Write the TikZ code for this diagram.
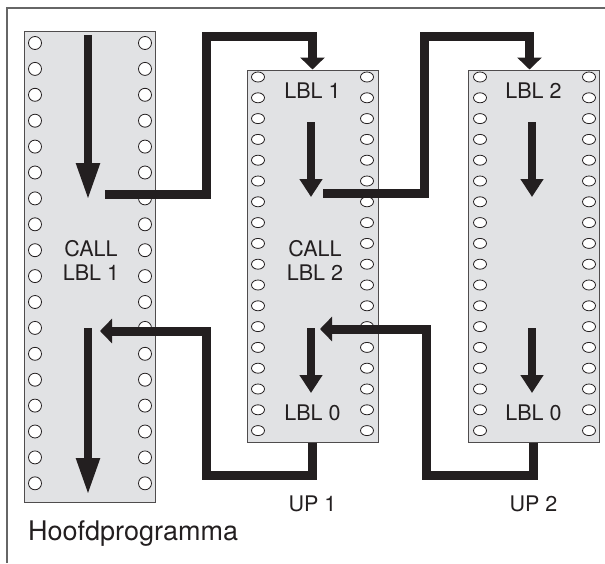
\documentclass[tikz,border=0pt]{standalone}
\usepackage{fontspec}
\setmainfont{TeX Gyre Heros}
\usepackage{xcolor}
\definecolor{stripgray}{RGB}{225,226,228}
\definecolor{inkblack}{RGB}{35,31,32}
\usepackage{tikz}
\usetikzlibrary{shapes.geometric, arrows.meta, positioning, calc}
\tikzset{
  strip/.style={
    rectangle, draw=inkblack!80, fill=stripgray, line width=1pt,
    minimum width=131pt, inner sep=0pt
  },
  hole/.style={
    circle, draw=inkblack, fill=white, line width=0.8pt,
    minimum size=13pt, inner sep=0pt
  },
  flathole/.style={
    ellipse, draw=inkblack, fill=white, line width=0.8pt,
    minimum width=13pt, minimum height=10pt, inner sep=0pt
  },
  tag/.style={
    font=\fontsize{21.5}{24}\selectfont, text=inkblack,
    inner sep=0pt, align=center
  },
  flow/.style={line width=8pt, color=inkblack, -{Triangle[width=22pt, length=#1]}},
  flow/.default=18pt,
  link/.style={line width=9pt, color=inkblack, line join=miter, -{Triangle[width=24pt, length=12pt]}},
  frame/.style={line width=1.6pt, color=black!60},
}

\begin{document}
\begin{tikzpicture}[x=1pt, y=-1pt]
  \useasboundingbox (0,0) rectangle (605,563);
  \draw [frame] (7,563) |- (605,8);

  % strips
  \node (main) [strip, minimum height=471pt] at (89.5,266.5) {};
  \node (up1)  [strip, minimum height=372pt] at (312.5,256) {};
  \node (up2)  [strip, minimum height=372pt] at (533.5,256) {};

  % holes
  \foreach \i in {0,...,17} {
    \node (ml\i) [hole] at (35,43+25.9*\i) {};
    \node (mr\i) [hole] at (145,43+25.9*\i) {};
    \node (al\i) [flathole] at (258,77+20.8*\i) {};
    \node (ar\i) [flathole] at (367,77+20.8*\i) {};
    \node (bl\i) [flathole] at (480,77+20.8*\i) {};
    \node (br\i) [flathole] at (589,77+20.8*\i) {};
  }

  % texts
  \node (call1) [tag] at (91,260) {CALL\\LBL 1};
  \node (lbl1)  [tag, below=13pt of up1.north] {LBL 1};
  \node (call2) [tag] at (315,260) {CALL\\LBL 2};
  \node (end1)  [tag, above=21pt of up1.south] {LBL 0};
  \node (lbl2)  [tag, below=13pt of up2.north] {LBL 2};
  \node (end2)  [tag, above=21pt of up2.south] {LBL 0};
  \node (nup1)  [tag, below=53pt of up1.south] {UP 1};
  \node (nup2)  [tag, below=53pt of up2.south] {UP 2};
  \node (head)  [tag, font=\fontsize{27}{30}\selectfont, anchor=base west] at (28,540) {Hoofdprogramma};

  % program flow
  \coordinate (m1a) at (88,35);   \coordinate (m1b) at (88,200);
  \coordinate (m2a) at (88,328);  \coordinate (m2b) at (88,495);
  \coordinate (a1a) at (311,122); \coordinate (a1b) at (311,197);
  \coordinate (a2a) at (311,328); \coordinate (a2b) at (311,393);
  \coordinate (b1a) at (532,122); \coordinate (b1b) at (532,197);
  \coordinate (b2a) at (532,328); \coordinate (b2b) at (532,393);
  \draw [flow=37pt] (m1a) -- (m1b);
  \draw [flow=37pt] (m2a) -- (m2b);
  \draw [flow] (a1a) -- (a1b);
  \draw [flow] (a2a) -- (a2b);
  \draw [flow] (b1a) -- (b1b);
  \draw [flow] (b2a) -- (b2b);

  % calls and returns
  \coordinate (out1)  at (105,194);
  \coordinate (bend1) at (206,36);
  \coordinate (bend2) at (206,475);
  \coordinate (back1) at (100,331);
  \coordinate (out2)  at (323,193);
  \coordinate (bend3) at (424,36);
  \coordinate (bend4) at (426,475);
  \coordinate (back2) at (320,329);
  \draw [link] (out1) -| (bend1) -| (up1.north);
  \draw [link] (up1.south) |- (bend2) |- (back1);
  \draw [link] (out2) -| (bend3) -| ([xshift=-4pt]up2.north);
  \draw [link] (up2.south) |- (bend4) |- (back2);
\end{tikzpicture}
\end{document}
